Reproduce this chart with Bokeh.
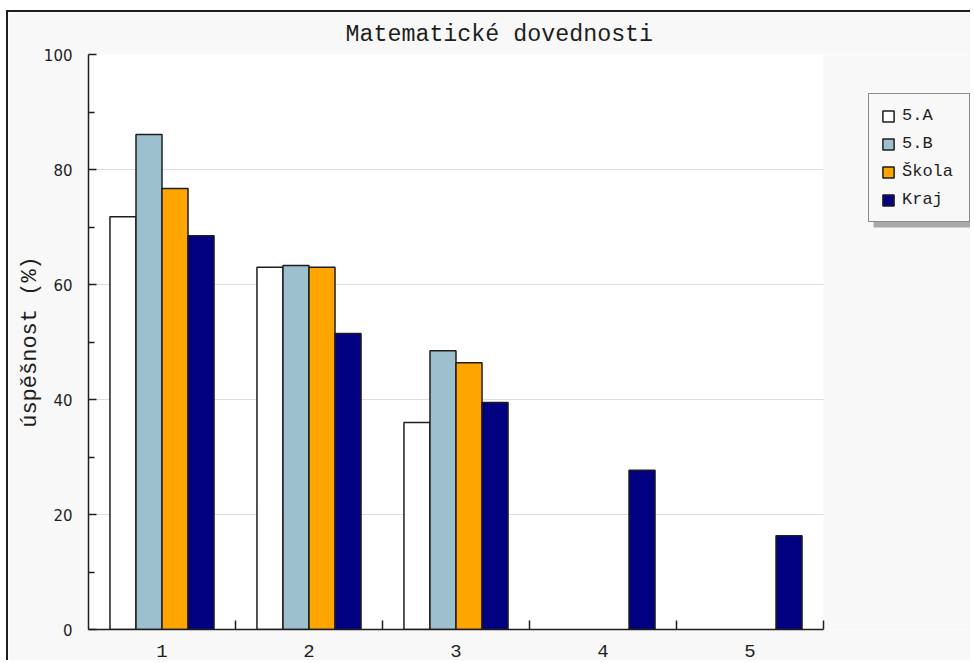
import numpy as np
from bokeh.plotting import figure
from bokeh.models import (Legend, LegendItem, FixedTicker, Spacer, ColumnDataSource,
                          BoxAnnotation)
from bokeh.layouts import column, row
from bokeh.embed import file_html
from bokeh.resources import INLINE

# ---- data ----
categories = ["1", "2", "3", "4", "5"]
series_names = ["5.A", "5.B", "Škola", "Kraj"]
val_5A = [71.8, 63.0, 36.0, None, None]
val_5B = [86.1, 63.3, 48.5, None, None]
val_skola = [76.7, 63.0, 46.4, None, None]
val_kraj = [68.5, 51.5, 39.5, 27.7, 16.3]
y_ticks = [0, 20, 40, 60, 80, 100]
title_text = "Matematické dovednosti"
y_label = "úspěšnost (%)"

colors = ["#ffffff", "#9dc0cf", "#ffa500", "#000080"]
series_values = [val_5A, val_5B, val_skola, val_kraj]

MONO = "Liberation Mono"
INK = "#1e1e1e"
BG = "#f8f8f8"

# layout (pixels): plot area 735 px wide, frame continues to the right edge
W, H = 964, 650
LEFT, TOP, BOTTOM = 80, 42, 33
PLOT_W = 735
n = len(categories)
x_start = 0.5
x_data_end = n + 0.5
x_view_end = x_start + (x_data_end - x_start) * (W - LEFT) / PLOT_W

p = figure(width=W, height=H, x_range=(x_start, x_view_end), y_range=(0, 100),
           output_backend="svg", toolbar_location=None,
           min_border_left=LEFT, min_border_right=0,
           min_border_top=TOP, min_border_bottom=BOTTOM,
           title=title_text)
p.styles = {"border-top": "2px solid " + INK, "border-left": "2px solid " + INK}
p.border_fill_color = BG
p.background_fill_color = "#ffffff"
p.outline_line_color = None

# grey area right of the plot area (covers grid lines there)
p.add_layout(BoxAnnotation(left=x_data_end, fill_color=BG, fill_alpha=1,
                           line_color=None, level="underlay"))

# title
p.title.align = "left"
p.title.offset = 257
p.title.text_font = MONO
p.title.text_font_size = "23.3px"
p.title.text_font_style = "normal"
p.title.text_color = INK
p.title.standoff = 14

xpos = np.arange(1, n + 1)
w = 0.177
renderers = []
for i, (name, vals, col) in enumerate(zip(series_names, series_values, colors)):
    xs = [x + (i - 1.5) * w for x, v in zip(xpos, vals) if v is not None]
    ys = [v for v in vals if v is not None]
    src = ColumnDataSource(dict(x=xs, top=ys))
    r = p.vbar(x="x", top="top", bottom=0, width=w, source=src,
               fill_color=col, line_color=INK, line_width=1.5)
    renderers.append((name, r))

# axes
p.xaxis.bounds = (x_start, x_data_end)
p.xaxis.ticker = FixedTicker(ticks=list(xpos),
                             minor_ticks=[x + 0.5 for x in xpos])
p.xaxis.major_label_overrides = {int(x): c for x, c in zip(xpos, categories)}
p.xaxis.major_tick_line_color = None
p.xaxis.minor_tick_in = 9
p.xaxis.minor_tick_out = 0
p.xaxis.minor_tick_line_color = INK
p.xaxis.minor_tick_line_width = 1.5
p.xaxis.major_label_text_font = MONO
p.xaxis.major_label_text_font_size = "19px"
p.xaxis.major_label_text_color = INK
p.xaxis.major_label_standoff = 9

p.yaxis.ticker = FixedTicker(ticks=y_ticks,
                             minor_ticks=[t + 10 for t in y_ticks[:-1]])
p.yaxis.major_tick_in = 8
p.yaxis.major_tick_out = 0
p.yaxis.minor_tick_in = 6
p.yaxis.minor_tick_out = 0
p.yaxis.major_tick_line_width = 1.5
p.yaxis.minor_tick_line_width = 1.5
p.yaxis.major_tick_line_color = INK
p.yaxis.minor_tick_line_color = INK
p.yaxis.major_label_text_font = "DejaVu Sans"
p.yaxis.major_label_text_font_size = "15px"
p.yaxis.major_label_text_color = INK
p.yaxis.major_label_standoff = 16
p.yaxis.axis_label = y_label
p.yaxis.axis_label_text_font = MONO
p.yaxis.axis_label_text_font_size = "22px"
p.yaxis.axis_label_text_font_style = "normal"
p.yaxis.axis_label_text_color = INK
p.yaxis.axis_label_standoff = -2

for ax in (p.xaxis, p.yaxis):
    ax.axis_line_color = INK
    ax.axis_line_width = 1.5

p.xgrid.grid_line_color = None
p.ygrid.ticker = FixedTicker(ticks=y_ticks[1:])
p.ygrid.grid_line_color = "#dddddd"
p.ygrid.grid_line_width = 1

# legend with drop shadow, inside the (extended) frame
LEG_X, LEG_Y, LEG_W, LEG_H = 780, 407, 100, 127
p.add_layout(BoxAnnotation(left=LEG_X + 5, right=LEG_X + LEG_W + 5,
                           bottom=LEG_Y - 5, top=LEG_Y + LEG_H - 5,
                           left_units="screen", right_units="screen",
                           top_units="screen", bottom_units="screen",
                           fill_color="#a9a9a9", fill_alpha=1, line_color=None))

legend = Legend(items=[LegendItem(label=nm, renderers=[r]) for nm, r in renderers],
                location=(LEG_X, LEG_Y))
legend.glyph_width = 14
legend.glyph_height = 14
legend.label_text_font = MONO
legend.label_text_font_size = "17px"
legend.label_standoff = 7
legend.label_width = LEG_W - 24 - 14 - 7
legend.padding = 12
legend.spacing = 9
legend.margin = 0
legend.label_height = 14
legend.background_fill_color = BG
legend.background_fill_alpha = 1
legend.border_line_color = INK
legend.border_line_width = 1.5
legend.label_text_color = INK
p.add_layout(legend, "center")

layout = column(Spacer(height=10, width=10), row(Spacer(width=6, height=10), p))
layout.spacing = 0

html = file_html(layout, INLINE)
html = html.replace("<head>", "<head><style>html,body{overflow:hidden;}</style>", 1)
open("out.html", "w").write(html)
